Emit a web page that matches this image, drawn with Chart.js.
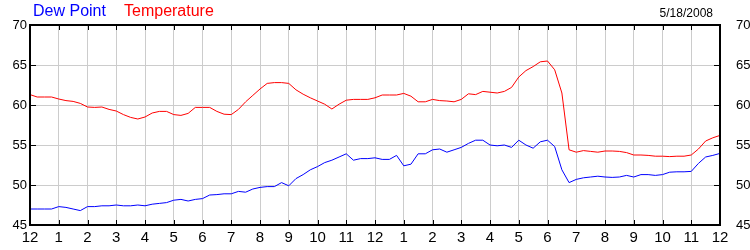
<!DOCTYPE html>
<html>
<head>
<meta charset="utf-8">
<script src="https://cdn.jsdelivr.net/npm/chart.js@4.4.1/dist/chart.umd.min.js"></script>
<style>
  html, body { margin: 0; padding: 0; background: #fff; }
  #wrap { width: 750px; height: 250px; }
</style>
</head>
<body>
<div id="wrap"><canvas id="weatherChart" width="750" height="250"></canvas></div>
<script>
// tick labels for the hours (midnight to midnight)
const hourLabels = ['12', '1', '2', '3', '4', '5', '6', '7', '8', '9', '10', '11',
                    '12', '1', '2', '3', '4', '5', '6', '7', '8', '9', '10', '11', '12'];

// readings every 15 minutes
const temperature = [
  61.3, 61.0, 61.0, 61.0, 60.75, 60.55, 60.45, 60.2, 59.75, 59.7, 59.75, 59.45, 59.25, 58.8, 58.45, 58.25,
  58.5, 59.0, 59.2, 59.2, 58.8, 58.7, 58.95, 59.7, 59.7, 59.7, 59.2, 58.85, 58.8, 59.45, 60.4, 61.2,
  62.0, 62.7, 62.8, 62.8, 62.7, 61.9, 61.35, 60.9, 60.5, 60.1, 59.5, 60.1, 60.6, 60.7, 60.7, 60.7,
  60.9, 61.25, 61.25, 61.25, 61.45, 61.1, 60.4, 60.4, 60.7, 60.55, 60.5, 60.4, 60.7, 61.4, 61.3, 61.7,
  61.6, 61.5, 61.7, 62.2, 63.5, 64.3, 64.8, 65.4, 65.5, 64.4, 61.5, 54.4, 54.1, 54.3, 54.2, 54.1,
  54.25, 54.25, 54.2, 54.05, 53.75, 53.75, 53.7, 53.6, 53.6, 53.55, 53.6, 53.6, 53.75, 54.5, 55.5, 55.9,
  56.2
];
const dewPoint = [
  47.0, 47.0, 47.0, 47.0, 47.3, 47.2, 47.0, 46.8, 47.3, 47.3, 47.4, 47.4, 47.5, 47.4, 47.4, 47.5,
  47.4, 47.6, 47.7, 47.8, 48.1, 48.2, 48.0, 48.2, 48.3, 48.75, 48.8, 48.9, 48.9, 49.2, 49.1, 49.5,
  49.7, 49.8, 49.8, 50.3, 49.9, 50.8, 51.3, 51.9, 52.3, 52.8, 53.1, 53.5, 53.9, 53.1, 53.3, 53.3,
  53.4, 53.2, 53.2, 53.7, 52.4, 52.6, 53.9, 53.9, 54.4, 54.5, 54.1, 54.4, 54.7, 55.2, 55.6, 55.6,
  55.0, 54.9, 55.0, 54.7, 55.6, 55.0, 54.6, 55.4, 55.6, 54.8, 51.9, 50.3, 50.7, 50.9, 51.0, 51.1,
  51.0, 50.95, 51.0, 51.2, 51.0, 51.3, 51.3, 51.2, 51.3, 51.6, 51.65, 51.65, 51.7, 52.7, 53.5, 53.7,
  53.95
];

const FONT = '"Liberation Sans", Arial, sans-serif';

function toPoints(values) {
  return values.map((v, i) => ({ x: i / 4, y: v }));
}

// frame, inward tick marks and the header texts
const framePlugin = {
  id: 'frame',
  afterDraw(chart) {
    const c = chart.ctx;
    const a = chart.chartArea;
    const xs = chart.scales.x;
    const ys = chart.scales.y;
    c.save();
    c.strokeStyle = '#000';
    c.lineWidth = 1;
    c.beginPath();
    for (let h = 0; h <= 24; h++) {
      const px = Math.round(xs.getPixelForValue(h)) + 0.5;
      c.moveTo(px, a.top); c.lineTo(px, a.top + 5);
      c.moveTo(px, a.bottom); c.lineTo(px, a.bottom - 5);
    }
    for (let v = 50; v <= 65; v += 5) {
      const py = Math.round(ys.getPixelForValue(v)) + 0.5;
      c.moveTo(a.left, py); c.lineTo(a.left + 6, py);
      c.moveTo(a.right, py); c.lineTo(a.right - 6, py);
    }
    c.stroke();
    c.lineWidth = 2;
    c.strokeRect(a.left, a.top, a.right - a.left, a.bottom - a.top);

    c.textBaseline = 'middle';
    c.font = '16px ' + FONT;
    c.textAlign = 'left';
    c.fillStyle = '#0000ff';
    c.fillText('Dew Point', 33, 12);
    c.fillStyle = '#ff0000';
    c.fillText('Temperature', 124, 12);
    c.font = '12px ' + FONT;
    c.fillStyle = '#000';
    c.textAlign = 'right';
    c.fillText('5/18/2008', 713, 14);
    c.restore();
  }
};

const ctx = document.getElementById('weatherChart').getContext('2d');

const weatherChart = new Chart(ctx, {
  type: 'line',
  data: {
    datasets: [
      {
        label: 'Temperature',
        data: toPoints(temperature),
        borderColor: '#ff0000',
        borderWidth: 1,
        pointRadius: 0,
        fill: false,
        tension: 0,
      },
      {
        label: 'Dew Point',
        data: toPoints(dewPoint),
        borderColor: '#0000ff',
        borderWidth: 1,
        pointRadius: 0,
        fill: false,
        tension: 0,
      },
    ]
  },
  options: {
    responsive: false,
    animation: false,
    events: [],
    layout: { padding: { top: 25, left: 0, right: 0, bottom: 0 } },
    plugins: {
      legend: { display: false },
      tooltip: { enabled: false },
    },
    scales: {
      x: {
        type: 'linear',
        min: 0,
        max: 24,
        afterFit(scale) { scale.height = 25; },
        ticks: {
          stepSize: 1,
          autoSkip: false,
          maxRotation: 0,
          padding: 4,
          color: '#000',
          font: { family: FONT, size: 15 },
          callback: (v) => hourLabels[v],
        },
        grid: { color: '#cccccc', drawTicks: false },
        border: { display: false },
      },
      y: {
        position: 'left',
        min: 45,
        max: 70,
        afterFit(scale) { scale.width = 30; },
        ticks: {
          stepSize: 5,
          padding: 3,
          color: '#000',
          font: { family: FONT, size: 13 },
        },
        grid: { color: '#cccccc', drawTicks: false },
        border: { display: false },
      },
      y2: {
        position: 'right',
        min: 45,
        max: 70,
        afterFit(scale) { scale.width = 30; },
        ticks: {
          stepSize: 5,
          padding: 8,
          color: '#000',
          font: { family: FONT, size: 13 },
        },
        grid: { display: false },
        border: { display: false },
      },
    },
  },
  plugins: [framePlugin]
});
</script>
</body>
</html>
